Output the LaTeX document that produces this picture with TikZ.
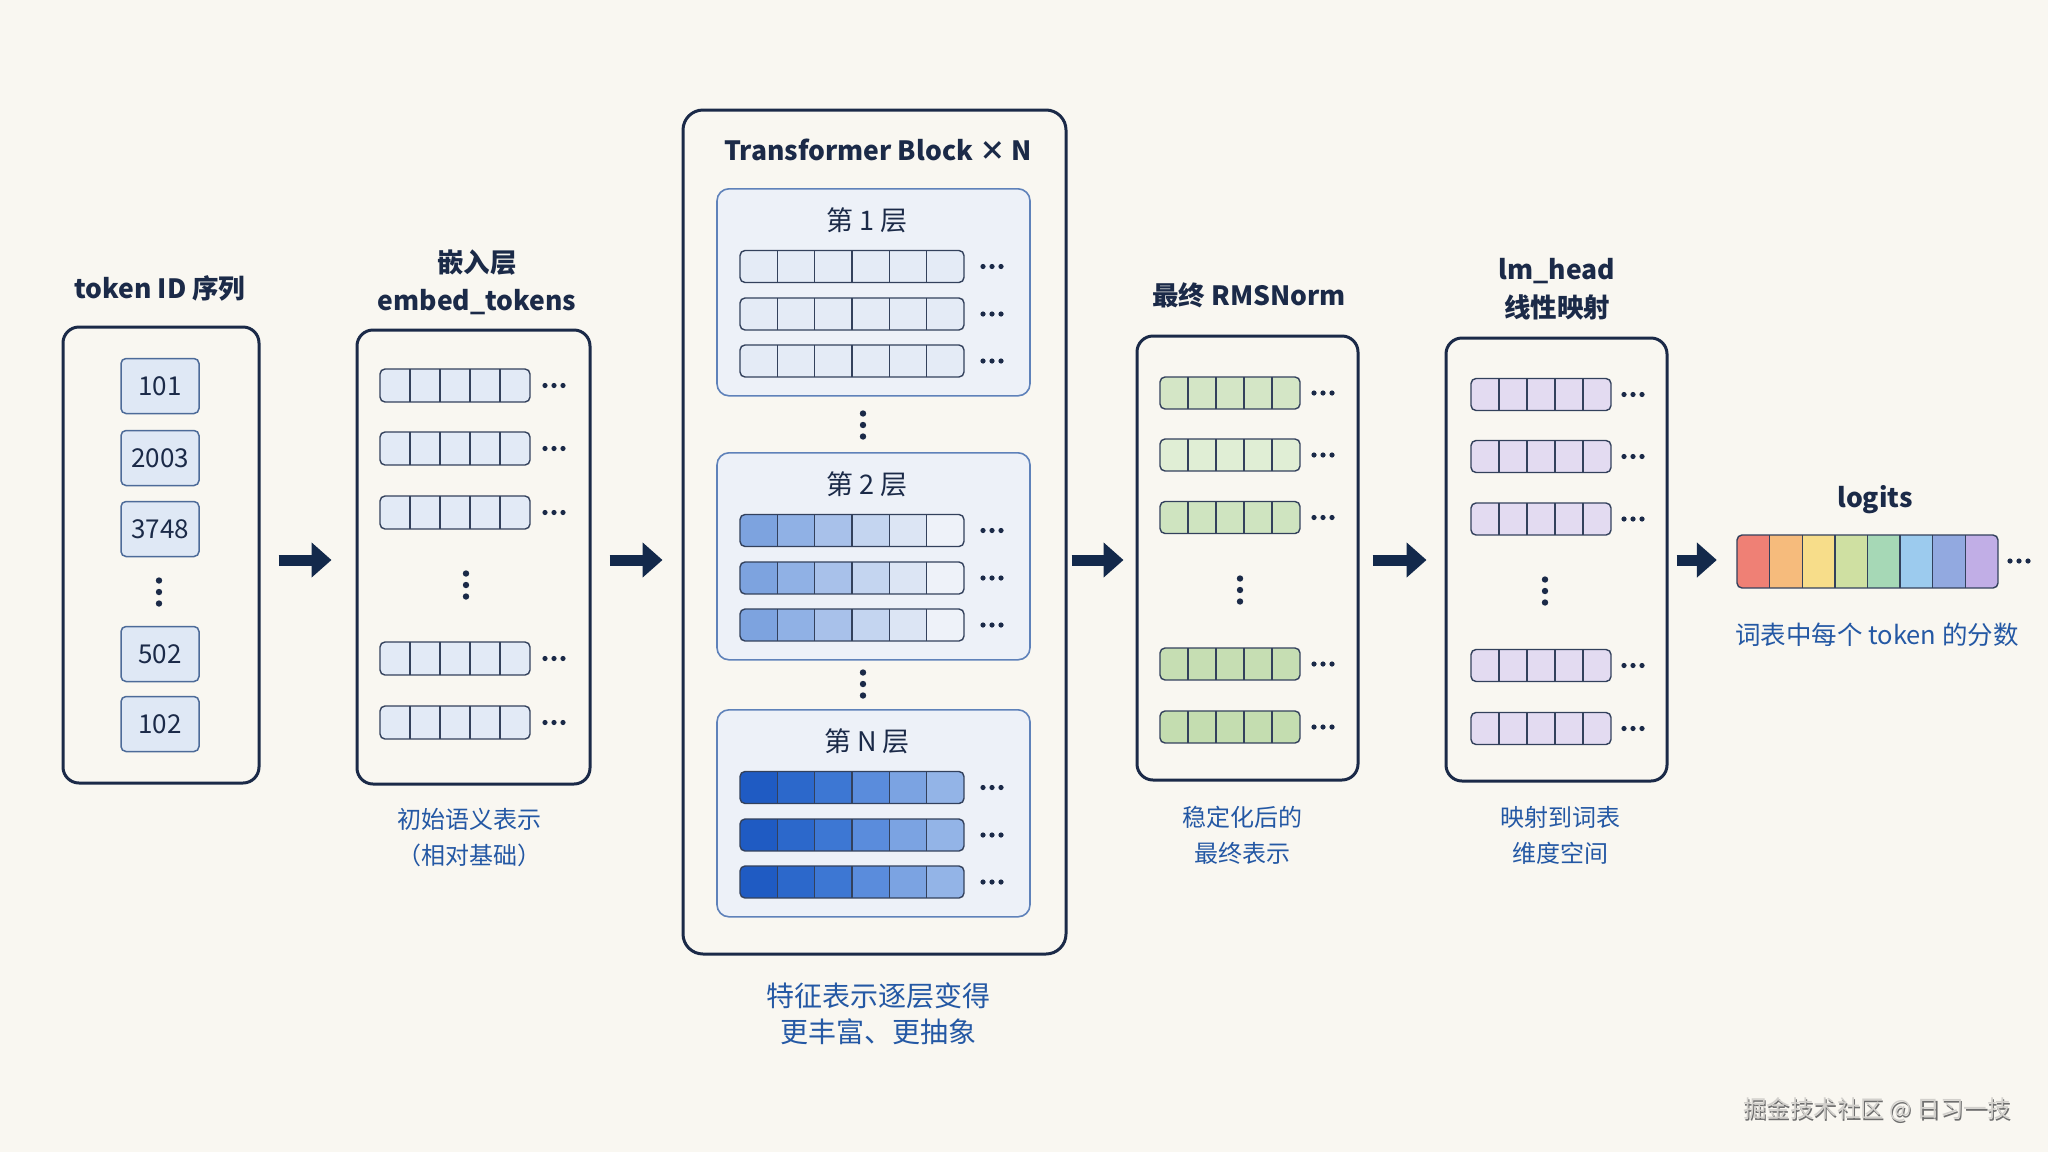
\documentclass[tikz,border=0pt]{standalone}
\usepackage{fontspec}
\setmainfont{Noto Sans CJK SC}
\usetikzlibrary{arrows.meta}

\definecolor{paper}{HTML}{F9F7F1}
\definecolor{ink}{HTML}{1B2A48}
\definecolor{arrowc}{HTML}{13294B}
\definecolor{capblue}{HTML}{2458A4}
\definecolor{cellc}{HTML}{33415C}
\definecolor{idfill}{HTML}{DFE8F5}
\definecolor{idline}{HTML}{4D6B99}
\definecolor{layerfill}{HTML}{EDF1F8}
\definecolor{layerline}{HTML}{5F82BA}
\definecolor{emb}{HTML}{E2EAF6}
\definecolor{la}{HTML}{E4EBF6}
\definecolor{lb1}{HTML}{7DA3DF}\definecolor{lb2}{HTML}{90B1E5}\definecolor{lb3}{HTML}{A8C1EA}
\definecolor{lb4}{HTML}{C4D5F0}\definecolor{lb5}{HTML}{DCE5F4}\definecolor{lb6}{HTML}{EEF2F9}
\definecolor{ln1}{HTML}{1F5BC3}\definecolor{ln2}{HTML}{2C68CB}\definecolor{ln3}{HTML}{3D77D3}
\definecolor{ln4}{HTML}{5A8CDC}\definecolor{ln5}{HTML}{7BA3E2}\definecolor{ln6}{HTML}{93B4E7}
\definecolor{gn1}{HTML}{D4E6C6}\definecolor{gn2}{HTML}{E0EED5}\definecolor{gn3}{HTML}{CFE4C0}
\definecolor{gn4}{HTML}{C6DEB3}\definecolor{gn5}{HTML}{C4DDB0}
\definecolor{pu}{HTML}{E3DBF1}
\definecolor{lg1}{HTML}{EF8075}\definecolor{lg2}{HTML}{F6BB7C}\definecolor{lg3}{HTML}{F7DD8A}
\definecolor{lg4}{HTML}{CFE0A2}\definecolor{lg5}{HTML}{A6D8B6}\definecolor{lg6}{HTML}{9CCBEE}
\definecolor{lg7}{HTML}{92A9E0}\definecolor{lg8}{HTML}{C1AEE6}
\definecolor{wmtext}{HTML}{D2D0CC}
\definecolor{wmshadow}{HTML}{6E6E6E}

\newcommand{\titlefont}{\fontsize{26.5}{38}\selectfont\bfseries}
\newcommand{\capfont}{\fontsize{24}{36}\selectfont}
\newcommand{\bigcapfont}{\fontsize{28}{36}\selectfont}
\newcommand{\idfont}{\fontsize{26}{30}\selectfont}
\newcommand{\layerfont}{\fontsize{27}{30}\selectfont}
\newcommand{\wmfont}{\fontsize{23.5}{28}\selectfont}

\tikzset{
  panel/.style={draw=ink, line width=3pt, rounded corners=16pt, inner sep=0pt},
  layerbox/.style={draw=layerline, fill=layerfill, line width=1.6pt, rounded corners=12pt, inner sep=0pt},
  idbox/.style={draw=idline, fill=idfill, line width=1.5pt, rounded corners=5pt,
    minimum width=78pt, minimum height=55pt, inner sep=0pt, text=ink, font=\idfont},
  title/.style={text=ink, font=\titlefont, align=center},
  caption/.style={text=capblue, font=\capfont, align=center},
  layertext/.style={text=ink, font=\layerfont},
  flow/.style={draw=arrowc, line width=11pt, -{Triangle[length=20pt,width=34pt]}},
  cellline/.style={draw=cellc, line width=1.4pt},
}

% left x, centre y, cells, cell width, height, colours
\newcommand{\cellrow}[6]{%
  \begin{scope}
    \clip[rounded corners=5pt] (#1,{#2-#5/2}) rectangle ({#1+#3*#4},{#2+#5/2});
    \foreach \cc [count=\k from 0] in {#6}
      \fill[fill=\cc] ({#1+\k*#4},{#2-#5/2}) rectangle ({#1+(\k+1)*#4},{#2+#5/2});
  \end{scope}
  \pgfmathtruncatemacro\lastk{#3-1}
  \foreach \k in {1,...,\lastk}
    \draw[cellline] ({#1+\k*#4},{#2-#5/2}) -- ({#1+\k*#4},{#2+#5/2});
  \draw[cellline, rounded corners=5pt] (#1,{#2-#5/2}) rectangle ({#1+#3*#4},{#2+#5/2});
}
\newcommand{\rowdots}[2]{\foreach \q in {-9,0,9} \fill[ink] ({#1+\q},{#2}) circle (2.6pt);}
\newcommand{\coldots}[2]{\foreach \q in {-11.5,0,11.5} \fill[ink] ({#1},{#2+\q}) circle (3.2pt);}
% name, top y, label, colours
\newcommand{\layer}[4]{%
  \node[layerbox, minimum width=313pt, minimum height=207pt, anchor=north] (#1) at (873.5,#2) {};
  \node[layertext] (#1-t) at (867,{#2+32}) {#3};
  \foreach \dy in {78.5,126,173}
    {\cellrow{740}{#2+\dy}{6}{37.33}{32}{#4} \rowdots{992}{#2+\dy}}
}

\begin{document}
\begin{tikzpicture}[x=1pt,y=-1pt]
  \fill[paper] (0,0) rectangle (2048,1152);
  \useasboundingbox (0,0) rectangle (2048,1152);

  % token ids
  \node[title] (ids-t) at (160,288) {token ID 序列};
  \node[panel, minimum width=196pt, minimum height=456pt] (ids) at (161,555) {};
  \foreach \v/\y in {101/386, 2003/458, 3748/529, 502/654, 102/724}
    \node[idbox] (id\v) at (160,\y) {\v};
  \coldots{159}{592}

  % embedding
  \node[title] (embed-t) at (477,282) {嵌入层\\embed\_tokens};
  \node[panel, minimum width=233pt, minimum height=454pt] (embed) at (473.5,557) {};
  \foreach \y in {385.5,448.5,512.5,658.5,722.5}
    {\cellrow{380}{\y}{5}{30}{33}{emb,emb,emb,emb,emb} \rowdots{554}{\y}}
  \coldots{466}{585}
  \node[caption] (embed-c) at (469,838) {初始语义表示\\（相对基础）};

  % transformer blocks
  \node[panel, rounded corners=20pt, minimum width=383pt, minimum height=844pt] (tblock) at (874.5,532) {};
  \node[title] (tblock-t) at (878,150) {Transformer Block × N};
  \layer{l1}{188}{第 1 层}{la,la,la,la,la,la}
  \coldots{863}{425}
  \layer{l2}{452}{第 2 层}{lb1,lb2,lb3,lb4,lb5,lb6}
  \coldots{863}{684}
  \layer{lN}{709}{第 N 层}{ln1,ln2,ln3,ln4,ln5,ln6}
  \node[caption, font=\bigcapfont] (tblock-c) at (878,1014) {特征表示逐层变得\\更丰富、更抽象};

  % final norm
  \node[title] (norm-t) at (1249,295) {最终 RMSNorm};
  \node[panel, minimum width=221pt, minimum height=444pt] (norm) at (1247.5,558) {};
  \foreach \y/\g in {393/gn1, 455/gn2, 517.5/gn3, 664/gn4, 727/gn5}
    {\cellrow{1160}{\y}{5}{28}{32}{\g,\g,\g,\g,\g} \rowdots{1323}{\y}}
  \coldots{1240}{590}
  \node[caption] (norm-c) at (1242,835.5) {稳定化后的\\最终表示};

  % lm head
  \node[title] (head-t) at (1557,289.5) {lm\_head\\线性映射};
  \node[panel, minimum width=221pt, minimum height=443pt] (head) at (1556.5,559.5) {};
  \foreach \y in {394.5,456.5,519,665.5,728.5}
    {\cellrow{1471}{\y}{5}{28}{32}{pu,pu,pu,pu,pu} \rowdots{1633}{\y}}
  \coldots{1545}{591}
  \node[caption] (head-c) at (1560,835.5) {映射到词表\\维度空间};

  % logits
  \node[title] (logits-t) at (1875,500) {logits};
  \node[minimum width=261pt, minimum height=53pt, inner sep=0pt] (logits) at (1867.5,561.5) {};
  \cellrow{1737}{561.5}{8}{32.625}{53}{lg1,lg2,lg3,lg4,lg5,lg6,lg7,lg8}
  \rowdots{2019}{561}
  \node[caption, font={\fontsize{25.5}{30}\selectfont}] (logits-c) at (1877,635) {词表中每个 token 的分数};

  % arrows
  \coordinate (lane) at (0,560);
  \draw[flow, shorten <=18pt, shorten >=24pt] (ids.east |- lane) -- (embed.west |- lane);
  \draw[flow, shorten <=18pt, shorten >=19pt] (embed.east |- lane) -- (tblock.west |- lane);
  \draw[flow, shorten <=4pt, shorten >=12pt] (tblock.east |- lane) -- (norm.west |- lane);
  \draw[flow, shorten <=13pt, shorten >=18pt] (norm.east |- lane) -- (head.west |- lane);
  \draw[flow, shorten <=8pt, shorten >=20pt] (head.east |- lane) -- (logits.west |- lane);

  % watermark
  \node[text=wmshadow, font=\wmfont] (wm-s) at (1878.3,1111.3) {掘金技术社区 @ 日习一技};
  \node[text=wmtext, font=\wmfont] (wm) at (1877,1110) {掘金技术社区 @ 日习一技};
\end{tikzpicture}
\end{document}
